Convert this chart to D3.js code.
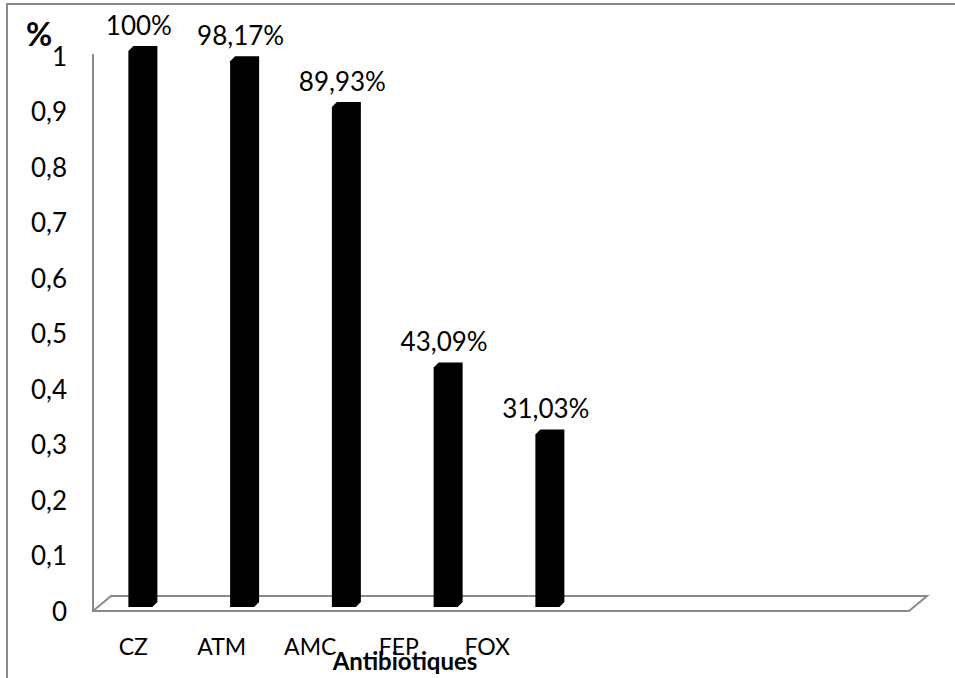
<!DOCTYPE html>
<html>
<head>
<meta charset="utf-8">
<script src="https://cdn.jsdelivr.net/npm/d3@7"></script>
<style>
  html, body { margin: 0; padding: 0; background: #fff; }
  svg { display: block; }
  text { font-family: Lato, "Open Sans", sans-serif; fill: #000; }
</style>
</head>
<body>
<svg id="chart" width="955" height="678"></svg>
<script>
const categories = ["CZ", "ATM", "AMC", "FEP", "FOX"];
const values = [1.0, 0.9817, 0.8993, 0.4309, 0.3103];
const valueLabels = ["100%", "98,17%", "89,93%", "43,09%", "31,03%"];
const yTicks = [0, 0.1, 0.2, 0.3, 0.4, 0.5, 0.6, 0.7, 0.8, 0.9, 1];
const yTickLabels = ["0", "0,1", "0,2", "0,3", "0,4", "0,5", "0,6", "0,7", "0,8", "0,9", "1"];
const slotCount = 8;

const svg = d3.select("#chart");
const grey = "#8a8a8a";

// outer frame (left and top)
svg.append("path")
  .attr("d", "M7,678 V4 H955")
  .attr("fill", "none").attr("stroke", grey).attr("stroke-width", 2);

const slots = d3.range(slotCount);
const xBar = d3.scaleBand().domain(slots).range([92, 906]);
const xLab = d3.scaleBand().domain(slots).range([89, 797]);
const yAxisScale = d3.scaleLinear().domain([0, 1]).range([612, 57]);
const yBar = d3.scaleLinear().domain([0, 1]).range([607, 51]);

// wall & floor
const fx0 = 93, fx1 = 909, fy = 611, dxF = 18, dyF = 15;
svg.append("path")
  .attr("d", `M${fx0},54 V${fy} H${fx1} L${fx1 + dxF},${fy - dyF} H${fx0 + dxF} L${fx0},${fy}`)
  .attr("fill", "none").attr("stroke", grey).attr("stroke-width", 2);

// y axis labels
const yAxis = d3.axisLeft(yAxisScale)
  .tickValues(yTicks)
  .tickSize(0).tickPadding(4)
  .tickFormat((d, i) => yTickLabels[i]);
const gy = svg.append("g").attr("transform", "translate(71,0)").call(yAxis);
gy.select(".domain").remove();
gy.selectAll("text").style("font-family", "Lato, sans-serif").style("font-size", "26px").attr("fill", "#000");

// % label
svg.append("text").attr("x", 26).attr("y", 46)
  .style("font-size", "32px").style("font-weight", "bold").text("%");

// bars (3D columns)
const frontW = 24, d = 5;
const bars = svg.append("g");
categories.forEach((c, i) => {
  const cx = xBar(i) + xBar.bandwidth() / 2;
  const x = cx - (frontW + d) / 2;
  const yT = yBar(values[i]);
  const yB = yBar(0);
  const pts = [
    [x, yB], [x, yT], [x + d, yT - d], [x + frontW + d, yT - d],
    [x + frontW + d, yB - d], [x + frontW, yB]
  ];
  bars.append("path").attr("d", d3.line()(pts) + "Z").attr("fill", "#000");
  svg.append("text")
    .attr("x", cx - 4).attr("y", yT - d - 11)
    .attr("text-anchor", "middle")
    .style("font-size", "26px")
    .text(valueLabels[i]);
  svg.append("text")
    .attr("x", xLab(i) + xLab.bandwidth() / 2).attr("y", 655)
    .attr("text-anchor", "middle")
    .style("font-size", "23px")
    .text(c);
});

// x axis title
svg.append("text").attr("x", 405).attr("y", 670)
  .attr("text-anchor", "middle")
  .style("font-size", "24px").style("font-weight", "bold")
  .text("Antibiotiques");
</script>
</body>
</html>
